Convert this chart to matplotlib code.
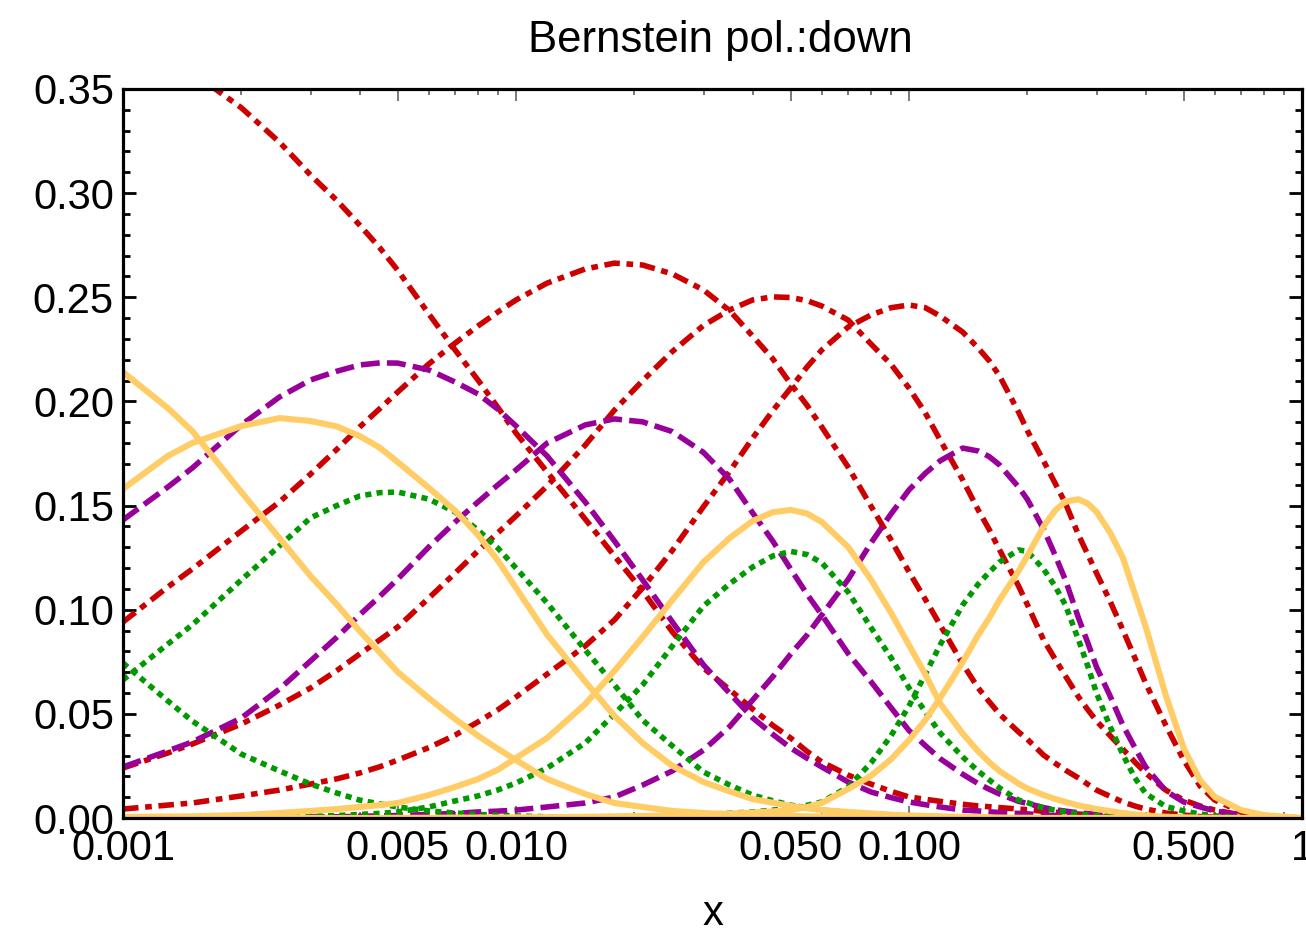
import matplotlib
matplotlib.use('Agg')
import matplotlib.pyplot as plt

plt.rcParams['font.family'] = ['Liberation Sans', 'DejaVu Sans']

# sample points along x (log axis) shared by every basis curve
x_pts = [0.001, 0.0013, 0.0015, 0.002, 0.0025, 0.003, 0.0035, 0.004, 0.0045, 0.005,
         0.006, 0.007, 0.008, 0.009, 0.01, 0.012, 0.015, 0.0178, 0.021, 0.025,
         0.03, 0.035, 0.04, 0.045, 0.05, 0.055, 0.06, 0.07, 0.08, 0.09,
         0.1, 0.11, 0.12, 0.137, 0.15, 0.16, 0.17, 0.19, 0.2, 0.22,
         0.235, 0.25, 0.27, 0.285, 0.3, 0.325, 0.35, 0.375, 0.4, 0.45,
         0.5, 0.55, 0.6, 0.7, 0.8, 1.0]

red_1 = [0.382, 0.366, 0.358, 0.341, 0.3245, 0.3087, 0.2965, 0.2847, 0.2738, 0.263,
         0.242, 0.2247, 0.2103, 0.197, 0.1848, 0.1661, 0.1435, 0.1258, 0.109, 0.0893,
         0.072, 0.0615, 0.0523, 0.0445, 0.0384, 0.032, 0.0269, 0.0206, 0.0163, 0.0128,
         0.0101, 0.009, 0.008, 0.0066, 0.0058, 0.0054, 0.005, 0.0043, 0.004, 0.0032,
         0.0028, 0.0024, 0.0019, 0.0016, 0.0014, 0.0011, 0.0008, 0.0006, 0.0005, 0.0003,
         0.0002, 0.0001, 0.0, 0.0, 0.0, 0.0]
red_2 = [0.0941, 0.1109, 0.1195, 0.1378, 0.1517, 0.1651, 0.177, 0.1877, 0.1965, 0.2045,
         0.218, 0.228, 0.2362, 0.243, 0.2487, 0.2568, 0.2636, 0.2664, 0.2655, 0.2612,
         0.2535, 0.2435, 0.2314, 0.2205, 0.2084, 0.1982, 0.1877, 0.1685, 0.1498, 0.1335,
         0.1181, 0.105, 0.0927, 0.0739, 0.0624, 0.0558, 0.0499, 0.0413, 0.0378, 0.0302,
         0.0264, 0.023, 0.0192, 0.0162, 0.0134, 0.0104, 0.0077, 0.0058, 0.0043, 0.0024,
         0.0014, 0.0007, 0.0004, 0.0001, 0.0, 0.0]
red_3 = [0.024, 0.0312, 0.0355, 0.0451, 0.0542, 0.0624, 0.0708, 0.0787, 0.0855, 0.0917,
         0.1056, 0.1176, 0.1282, 0.137, 0.145, 0.1594, 0.179, 0.1958, 0.21, 0.224,
         0.2365, 0.244, 0.2487, 0.2502, 0.2499, 0.2484, 0.2458, 0.2391, 0.2276, 0.2178,
         0.2064, 0.1945, 0.1815, 0.1623, 0.1479, 0.1385, 0.1287, 0.1114, 0.1025, 0.0855,
         0.0765, 0.0682, 0.0581, 0.052, 0.0466, 0.0395, 0.0331, 0.027, 0.0216, 0.0134,
         0.0086, 0.0058, 0.0038, 0.0014, 0.0005, 0.0]
red_4 = [0.0043, 0.0062, 0.0072, 0.0106, 0.0134, 0.0163, 0.0188, 0.0216, 0.0246, 0.0278,
         0.0338, 0.0398, 0.0461, 0.052, 0.0581, 0.0691, 0.0826, 0.0951, 0.1105, 0.1285,
         0.1495, 0.1665, 0.1824, 0.1955, 0.2064, 0.2165, 0.2247, 0.2357, 0.2415, 0.245,
         0.2463, 0.245, 0.241, 0.2333, 0.2256, 0.2195, 0.2122, 0.1949, 0.186, 0.1714,
         0.161, 0.1512, 0.1359, 0.1265, 0.1176, 0.104, 0.0903, 0.0772, 0.0648, 0.0446,
         0.0278, 0.0154, 0.0086, 0.0029, 0.001, 0.0]

purple_1 = [0.1431, 0.1589, 0.168, 0.1887, 0.2021, 0.2103, 0.2145, 0.2175, 0.2185, 0.2184,
            0.2151, 0.2093, 0.2036, 0.1962, 0.1882, 0.1738, 0.1517, 0.133, 0.1143, 0.0941,
            0.0735, 0.0598, 0.0481, 0.0402, 0.0336, 0.0287, 0.0245, 0.0173, 0.0125, 0.0098,
            0.0077, 0.0064, 0.0053, 0.0038, 0.0034, 0.003, 0.0026, 0.0022, 0.002, 0.0014,
            0.0012, 0.001, 0.0008, 0.0006, 0.0005, 0.0004, 0.0003, 0.0002, 0.0002, 0.0001,
            0.0, 0.0, 0.0, 0.0, 0.0, 0.0]
purple_2 = [0.0245, 0.0322, 0.0365, 0.048, 0.0619, 0.0754, 0.0868, 0.0975, 0.1064, 0.1147,
            0.1301, 0.1421, 0.1517, 0.16, 0.1671, 0.18, 0.1887, 0.1916, 0.1902, 0.1855,
            0.1755, 0.1625, 0.1465, 0.133, 0.1195, 0.1075, 0.0975, 0.079, 0.0655, 0.053,
            0.042, 0.0348, 0.0285, 0.021, 0.0165, 0.0138, 0.0115, 0.008, 0.007, 0.005,
            0.004, 0.0033, 0.0025, 0.0021, 0.0017, 0.0013, 0.001, 0.0008, 0.0006, 0.0003,
            0.0002, 0.0001, 0.0, 0.0, 0.0, 0.0]
purple_3 = [0.0, 0.0, 0.0001, 0.0002, 0.0003, 0.0005, 0.0006, 0.0008, 0.001, 0.0012,
            0.0017, 0.0022, 0.0029, 0.0033, 0.0038, 0.0053, 0.0072, 0.0101, 0.0158, 0.0226,
            0.0326, 0.044, 0.0566, 0.0678, 0.0787, 0.0878, 0.0975, 0.1145, 0.132, 0.146,
            0.1575, 0.1655, 0.1715, 0.1776, 0.1762, 0.1735, 0.1695, 0.1589, 0.153, 0.1387,
            0.1265, 0.1143, 0.096, 0.0842, 0.0725, 0.0585, 0.0446, 0.034, 0.0245, 0.013,
            0.0077, 0.0053, 0.0034, 0.0014, 0.0005, 0.0]

green_1 = [0.0744, 0.0562, 0.0466, 0.0307, 0.0226, 0.0163, 0.012, 0.0086, 0.0068, 0.0053,
           0.0034, 0.0024, 0.0017, 0.0013, 0.001, 0.0006, 0.0004, 0.0002, 0.0001, 0.0,
           0.0, 0.0, 0.0, 0.0, 0.0, 0.0, 0.0, 0.0, 0.0, 0.0,
           0.0, 0.0, 0.0, 0.0, 0.0, 0.0, 0.0, 0.0, 0.0, 0.0,
           0.0, 0.0, 0.0, 0.0, 0.0, 0.0, 0.0, 0.0, 0.0, 0.0,
           0.0, 0.0, 0.0, 0.0, 0.0, 0.0]
green_2 = [0.0663, 0.0835, 0.0927, 0.1143, 0.1306, 0.1441, 0.15, 0.1546, 0.1562, 0.1565,
           0.1531, 0.1469, 0.1383, 0.1295, 0.12, 0.1032, 0.0807, 0.0639, 0.047, 0.0346,
           0.0221, 0.0158, 0.011, 0.0083, 0.0062, 0.0048, 0.0038, 0.0026, 0.0019, 0.0014,
           0.001, 0.0008, 0.0006, 0.0004, 0.0003, 0.0002, 0.0002, 0.0001, 0.0001, 0.0,
           0.0, 0.0, 0.0, 0.0, 0.0, 0.0, 0.0, 0.0, 0.0, 0.0,
           0.0, 0.0, 0.0, 0.0, 0.0, 0.0]
green_3 = [0.0, 0.0, 0.0001, 0.0002, 0.0005, 0.0008, 0.0012, 0.0017, 0.0022, 0.0029,
           0.0053, 0.0082, 0.0106, 0.0135, 0.0168, 0.024, 0.036, 0.0499, 0.0639, 0.0826,
           0.1018, 0.1125, 0.1205, 0.1258, 0.128, 0.1265, 0.1225, 0.1085, 0.0915, 0.077,
           0.0625, 0.051, 0.0408, 0.0293, 0.0225, 0.0183, 0.0144, 0.0086, 0.0074, 0.0048,
           0.0038, 0.0029, 0.0019, 0.0015, 0.0012, 0.0009, 0.0006, 0.0004, 0.0003, 0.0001,
           0.0, 0.0, 0.0, 0.0, 0.0, 0.0]
green_4 = [0.0, 0.0, 0.0, 0.0, 0.0, 0.0, 0.0, 0.0, 0.0, 0.0,
           0.0, 0.0, 0.0, 0.0, 0.0001, 0.0002, 0.0004, 0.0006, 0.0008, 0.0012,
           0.0017, 0.0023, 0.0029, 0.0038, 0.0048, 0.0061, 0.0077, 0.0149, 0.0264, 0.0395,
           0.0538, 0.069, 0.0831, 0.1023, 0.1123, 0.118, 0.1229, 0.1287, 0.128, 0.1195,
           0.1115, 0.1023, 0.0855, 0.073, 0.06, 0.0438, 0.0305, 0.0195, 0.0118, 0.0055,
           0.0034, 0.0019, 0.001, 0.0002, 0.0, 0.0]

orange_1 = [0.2141, 0.1968, 0.1858, 0.1565, 0.1344, 0.1162, 0.1025, 0.0898, 0.0795, 0.0701,
            0.0575, 0.0475, 0.0395, 0.0332, 0.0278, 0.0187, 0.0115, 0.0072, 0.0053, 0.0034,
            0.0024, 0.0018, 0.0014, 0.0012, 0.001, 0.0008, 0.0007, 0.0005, 0.0004, 0.0003,
            0.0002, 0.0001, 0.0001, 0.0, 0.0, 0.0, 0.0, 0.0, 0.0, 0.0,
            0.0, 0.0, 0.0, 0.0, 0.0, 0.0, 0.0, 0.0, 0.0, 0.0,
            0.0, 0.0, 0.0, 0.0, 0.0, 0.0]
orange_2 = [0.158, 0.1738, 0.18, 0.1882, 0.192, 0.1906, 0.188, 0.1834, 0.1778, 0.1709,
            0.1585, 0.1475, 0.136, 0.1235, 0.1105, 0.088, 0.0655, 0.049, 0.036, 0.025,
            0.0173, 0.0127, 0.0091, 0.0073, 0.0058, 0.0047, 0.0038, 0.0029, 0.0022, 0.0016,
            0.0012, 0.001, 0.0008, 0.0005, 0.0004, 0.0003, 0.0002, 0.0001, 0.0001, 0.0,
            0.0, 0.0, 0.0, 0.0, 0.0, 0.0, 0.0, 0.0, 0.0, 0.0,
            0.0, 0.0, 0.0, 0.0, 0.0, 0.0]
orange_3 = [0.0005, 0.0007, 0.0008, 0.0014, 0.0024, 0.0034, 0.0043, 0.0053, 0.0062, 0.0072,
            0.011, 0.0149, 0.0187, 0.0232, 0.0288, 0.0384, 0.0547, 0.0706, 0.0869, 0.1047,
            0.1229, 0.1345, 0.1426, 0.1468, 0.1479, 0.1462, 0.1421, 0.1301, 0.1145, 0.0985,
            0.083, 0.069, 0.055, 0.0405, 0.032, 0.0268, 0.0225, 0.0165, 0.0142, 0.011,
            0.0092, 0.0077, 0.006, 0.0052, 0.0043, 0.0033, 0.0024, 0.0017, 0.0012, 0.0006,
            0.0003, 0.0001, 0.0, 0.0, 0.0, 0.0]
orange_4 = [0.0, 0.0, 0.0, 0.0, 0.0, 0.0, 0.0, 0.0, 0.0, 0.0001,
            0.0001, 0.0002, 0.0002, 0.0002, 0.0003, 0.0004, 0.0006, 0.0008, 0.001, 0.0012,
            0.0017, 0.0021, 0.0026, 0.0032, 0.0038, 0.0052, 0.0072, 0.0139, 0.0202, 0.0282,
            0.0374, 0.047, 0.0576, 0.0749, 0.0879, 0.096, 0.1047, 0.1185, 0.1258, 0.14,
            0.1475, 0.152, 0.153, 0.151, 0.147, 0.137, 0.125, 0.108, 0.092, 0.059,
            0.0336, 0.0182, 0.0101, 0.0038, 0.0014, 0.0]

x_major = [0.001, 0.005, 0.01, 0.05, 0.1, 0.5, 1.0]
x_major_labels = ['0.001', '0.005', '0.010', '0.050', '0.100', '0.500', '1']
y_major = [0.0, 0.05, 0.1, 0.15, 0.2, 0.25, 0.3, 0.35]
y_major_labels = ['0.00', '0.05', '0.10', '0.15', '0.20', '0.25', '0.30', '0.35']

# line styles (dash lengths are in units of line width)
styles = {
    'red': dict(color='#cc0000', lw=4.0, dashes=(2.8, 1.2, 1.2, 1.2)),
    'purple': dict(color='#990099', lw=4.0, dashes=(3.4, 1.3)),
    'green': dict(color='#009900', lw=4.0, dashes=(1.1, 0.95)),
    'orange': dict(color='#ffcc66', lw=4.4),
}
curves = [
    (red_1, 'red'), (red_2, 'red'), (red_3, 'red'), (red_4, 'red'),
    (purple_1, 'purple'), (purple_2, 'purple'), (purple_3, 'purple'),
    (green_1, 'green'), (green_2, 'green'), (green_3, 'green'), (green_4, 'green'),
    (orange_1, 'orange'), (orange_2, 'orange'), (orange_3, 'orange'), (orange_4, 'orange'),
]
for vals, name in curves:
    assert len(vals) == len(x_pts), name

W, H = 1306, 932
fig = plt.figure(figsize=(W / 100, H / 100), dpi=100)
ax = fig.add_axes([123 / W, 1 - 818 / H, (1302 - 123) / W, (818 - 89) / H])

for vals, name in curves:
    ax.plot(x_pts, vals, dash_capstyle='butt', solid_capstyle='round',
            solid_joinstyle='round', **styles[name])

ax.set_xscale('log')
ax.set_xlim(0.001, 1.0)
ax.set_ylim(0.0, 0.35)

ax.set_xticks(x_major, x_major_labels)
ax.set_xticks([m * d for d in (0.001, 0.01, 0.1) for m in (2, 3, 4, 6, 7, 8, 9)], minor=True)
ax.set_yticks(y_major, y_major_labels)
ax.set_yticks([i / 100 for i in range(36) if i % 5], minor=True)

ax.tick_params(axis='y', which='major', direction='in', length=9.2, width=2.0,
               labelsize=30, pad=6.5, right=True)
ax.tick_params(axis='y', which='minor', direction='in', length=5.0, width=2.0, right=True)
ax.tick_params(axis='x', which='major', direction='in', length=8.5, width=1.1,
               color='#555555', labelsize=30, pad=8, top=True)
ax.tick_params(axis='x', which='minor', direction='in', length=4.0, width=1.1,
               color='#555555', top=True)

for sp in ax.spines.values():
    sp.set_linewidth(2.3)

fig.text(720 / W, 1 - 52 / H, 'Bernstein pol.:down', ha='center', va='baseline', fontsize=31.5)
fig.text(713 / W, 1 - 925 / H, 'x', ha='center', va='baseline', fontsize=30)

fig.savefig('out.png', dpi=100)
